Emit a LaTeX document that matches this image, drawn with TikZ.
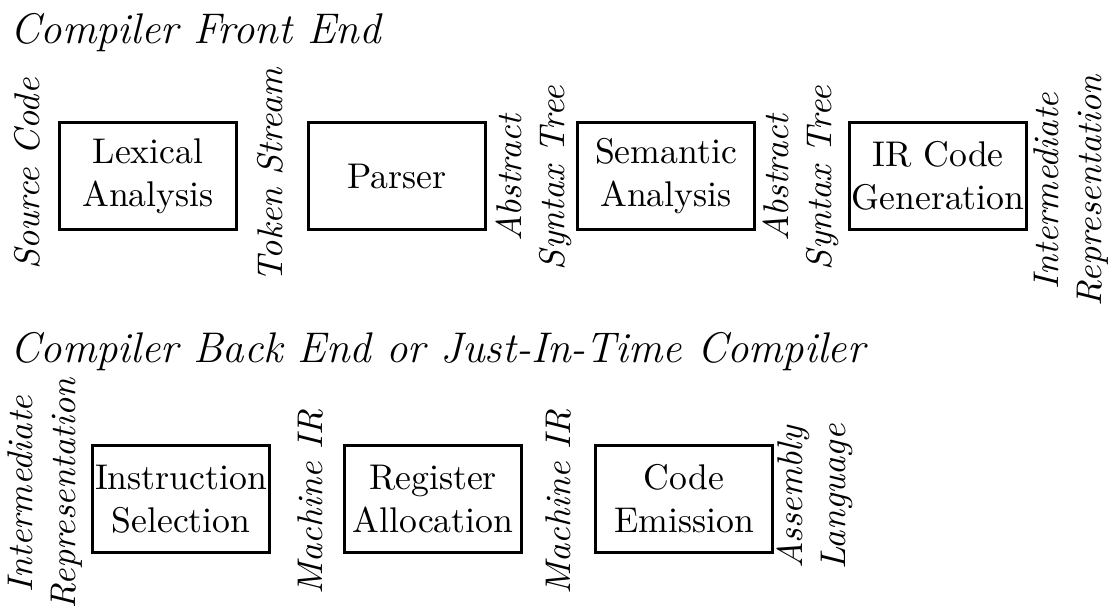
\documentclass[tikz,border=0pt]{standalone}
\begin{document}
\begin{tikzpicture}[x=0.28pt,y=-0.28pt,
  box/.style={draw, line width=0.85pt, align=center, inner sep=0.5pt,
              minimum width=49.6pt, minimum height=30.2pt},
  lbl/.style={rotate=90, align=center, font=\itshape, inner sep=0pt},
  ttl/.style={font=\large\itshape, anchor=base west, inner sep=0pt}]
\useasboundingbox (0,0) rectangle (1109,605);
% titles
\node[ttl] (t1) at (10,43) {Compiler Front End};
\node[ttl] (t2) at (10,362) {Compiler Back End or Just-In-Time Compiler};
% row 1 boxes
\node[box] (lex) at (148,176) {Lexical\\Analysis};
\node[box] (par) at (397,176) {Parser};
\node[box] (sem) at (666,176) {Semantic\\Analysis};
\node[box] (irg) at (938,176) {IR Code\\Generation};
% row 1 labels
\node[lbl] (src) at (27,174) {Source Code};
\node[lbl] (tok) at (270,175) {Token Stream};
\node[lbl] (ast1) at (534,178) {Abstract\\Syntax Tree};
\node[lbl] (ast2) at (801,178) {Abstract\\Syntax Tree};
\node[lbl] (ir1) at (1071,191) {Intermediate\\Representation};
% row 2 boxes
\node[box] (ins) at (181,499) {Instruction\\Selection};
\node[box] (reg) at (433,499) {Register\\Allocation};
\node[box] (emi) at (684,499) {Code\\Emission};
% row 2 labels
\node[lbl] (ir2) at (45,494) {Intermediate\\Representation};
\node[lbl] (mir1) at (310,502) {Machine IR};
\node[lbl] (mir2) at (558,502) {Machine IR};
\node[lbl] (asm) at (815,497) {Assembly\\Language};
\end{tikzpicture}
\end{document}
